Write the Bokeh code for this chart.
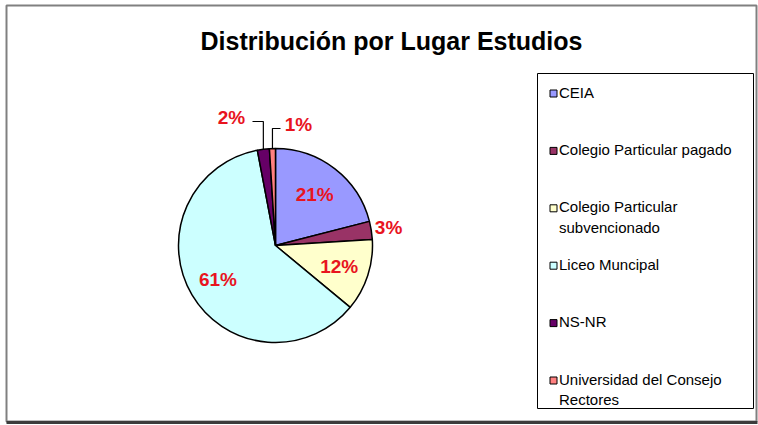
import math
from bokeh.plotting import figure
from bokeh.models import Range1d, ColumnDataSource
from bokeh.core.properties import value
from bokeh.embed import file_html
from bokeh.resources import INLINE

# ---- data ----
categories = ["CEIA", "Colegio Particular pagado", "Colegio Particular\nsubvencionado",
              "Liceo Muncipal", "NS-NR", "Universidad del Consejo\nRectores"]
percents = [21, 3, 12, 61, 2, 1]
colors = ["#9999FF", "#993366", "#FFFFCC", "#CCFFFF", "#660066", "#FF8080"]
title_text = "Distribución por Lugar Estudios"

# ---- layout (page-pixel coordinates, y measured from top) ----
W, H = 758, 424
FONT = "Liberation Sans"


def Y(yt):
    return H - yt


CX, CY, R = 275, Y(245), 97

p = figure(width=W, height=H, output_backend="svg", toolbar_location=None,
           x_range=Range1d(0, W), y_range=Range1d(0, H), min_border=0)
p.axis.visible = False
p.grid.visible = False
p.outline_line_color = None
p.background_fill_color = "white"
p.border_fill_color = "white"

# outer frame
p.quad(left=6, right=756, top=Y(5), bottom=Y(421), fill_color="white",
       line_color="#808080", line_width=2)
p.line([6, 757], [Y(422), Y(422)], line_color="#3c3c3c", line_width=3)

# pie slices (clockwise from 12 o'clock)
total = sum(percents)
starts, ends, mids = [], [], []
cum = 0.0
for v in percents:
    a0 = math.pi / 2 - 2 * math.pi * cum / total
    cum += v
    a1 = math.pi / 2 - 2 * math.pi * cum / total
    starts.append(a0)
    ends.append(a1)
    mids.append((a0 + a1) / 2)

src = ColumnDataSource(dict(start=starts, end=ends, color=colors))
p.wedge(x=CX, y=CY, radius=R, start_angle="start", end_angle="end", direction="clock",
        fill_color="color", line_color="black", line_width=1.5, source=src)

# percentage labels
label_radius = [0.66, 1.18, 0.69, 0.69, None, None]
manual = {4: (231, 117, 252), 5: (298, 124, 280)}  # moved labels: x, y_top, leader end x
lx, ly, lt = [], [], []
for i, v in enumerate(percents):
    if i in manual:
        mx, my, hx = manual[i]
        x, y = mx, Y(my)
        ex = CX + R * math.cos(mids[i])
        ey = CY + R * math.sin(mids[i])
        hy = y - 4
        p.line([ex, ex, hx], [ey, hy, hy], line_color="black", line_width=1.2)
    else:
        r = label_radius[i] * R
        x, y = CX + r * math.cos(mids[i]), CY + r * math.sin(mids[i])
    lx.append(x)
    ly.append(y)
    lt.append(f"{v}%")
p.text(x=lx, y=ly, text=lt, text_color="#E8141E", text_font=value(FONT),
       text_font_size="19px", text_font_style="bold", text_align="center",
       text_baseline="middle")

# title
p.text(x=[391], y=[Y(40)], text=[title_text], text_font=value(FONT),
       text_font_size="25px", text_font_style="bold", text_color="black",
       text_align="center", text_baseline="middle")

# legend (drawn manually)
p.quad(left=537, right=753, top=Y(73), bottom=Y(408), fill_color="white",
       line_color="black", line_width=1)
step = 57.4
iy = [Y(93 + k * step) for k in range(len(categories))]
p.scatter(x=[553] * len(categories), y=iy, marker="square", size=7,
          fill_color=colors, line_color="black", line_width=1)
p.text(x=[558.5] * len(categories), y=[y + 10 for y in iy], text=categories,
       text_font=value(FONT), text_font_size="15px", text_color="black",
       text_align="left", text_baseline="top", text_line_height=1.2)

open("out.html", "w").write(file_html(p, INLINE))
